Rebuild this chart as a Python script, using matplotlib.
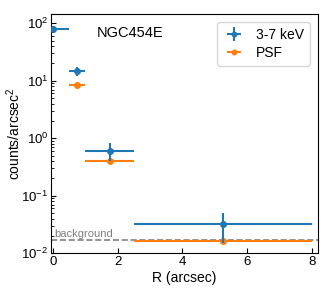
import numpy as np
import matplotlib.pyplot as plt

plt.rcParams["font.family"] = ["Liberation Sans", "DejaVu Sans"]
plt.rcParams["mathtext.fontset"] = "custom"
plt.rcParams["mathtext.rm"] = "Liberation Sans"
plt.rcParams["mathtext.it"] = "Liberation Sans:italic"
plt.rcParams["mathtext.bf"] = "Liberation Sans:bold"

# radial bins (arcsec)
r_mid = [0.0, 0.75, 1.75, 5.25]
r_err = [0.5, 0.25, 0.75, 2.75]

# 3-7 keV surface brightness
sb = [78.0, 14.5, 0.60, 0.032]
sb_lo = [8.0, 2.5, 0.20, 0.017]
sb_hi = [8.0, 2.5, 0.22, 0.017]

# PSF model
psf = [78.0, 8.4, 0.40, 0.016]

bkg = 0.0172

fig, ax = plt.subplots(figsize=(3.24, 2.91), dpi=100)

ax.errorbar(r_mid, sb, xerr=r_err, yerr=[sb_lo, sb_hi], fmt="o", ms=4,
            color="tab:blue", label="3-7 keV", zorder=3)
ax.errorbar(r_mid[1:], psf[1:], xerr=r_err[1:], fmt="o", ms=4,
            color="tab:orange", label="PSF", zorder=2)
ax.axhline(bkg, color="gray", ls="--", lw=1.2, zorder=1)
ax.text(0.05, bkg * 1.04, "background", color="gray", fontsize=8, va="bottom")
ax.text(1.35, 58, "NGC454E", fontsize=10.5)

ax.set_yscale("log")
ax.set_xlim(-0.06, 8.2)
ax.set_ylim(0.01, 145)
ax.set_xlabel("R (arcsec)", fontsize=10, labelpad=2)
ax.set_ylabel("counts/arcsec$^2$", fontsize=10)
ax.yaxis.set_label_coords(-0.105, 0.5)
ax.tick_params(direction="in", which="both", labelsize=9.5, pad=2)
ax.legend(loc="upper right", fontsize=10, handlelength=1.6, markerscale=0.8,
          borderpad=0.4, labelspacing=0.3, borderaxespad=0.6)

fig.subplots_adjust(left=0.158, right=0.982, top=0.952, bottom=0.13)
fig.savefig("out.png")
